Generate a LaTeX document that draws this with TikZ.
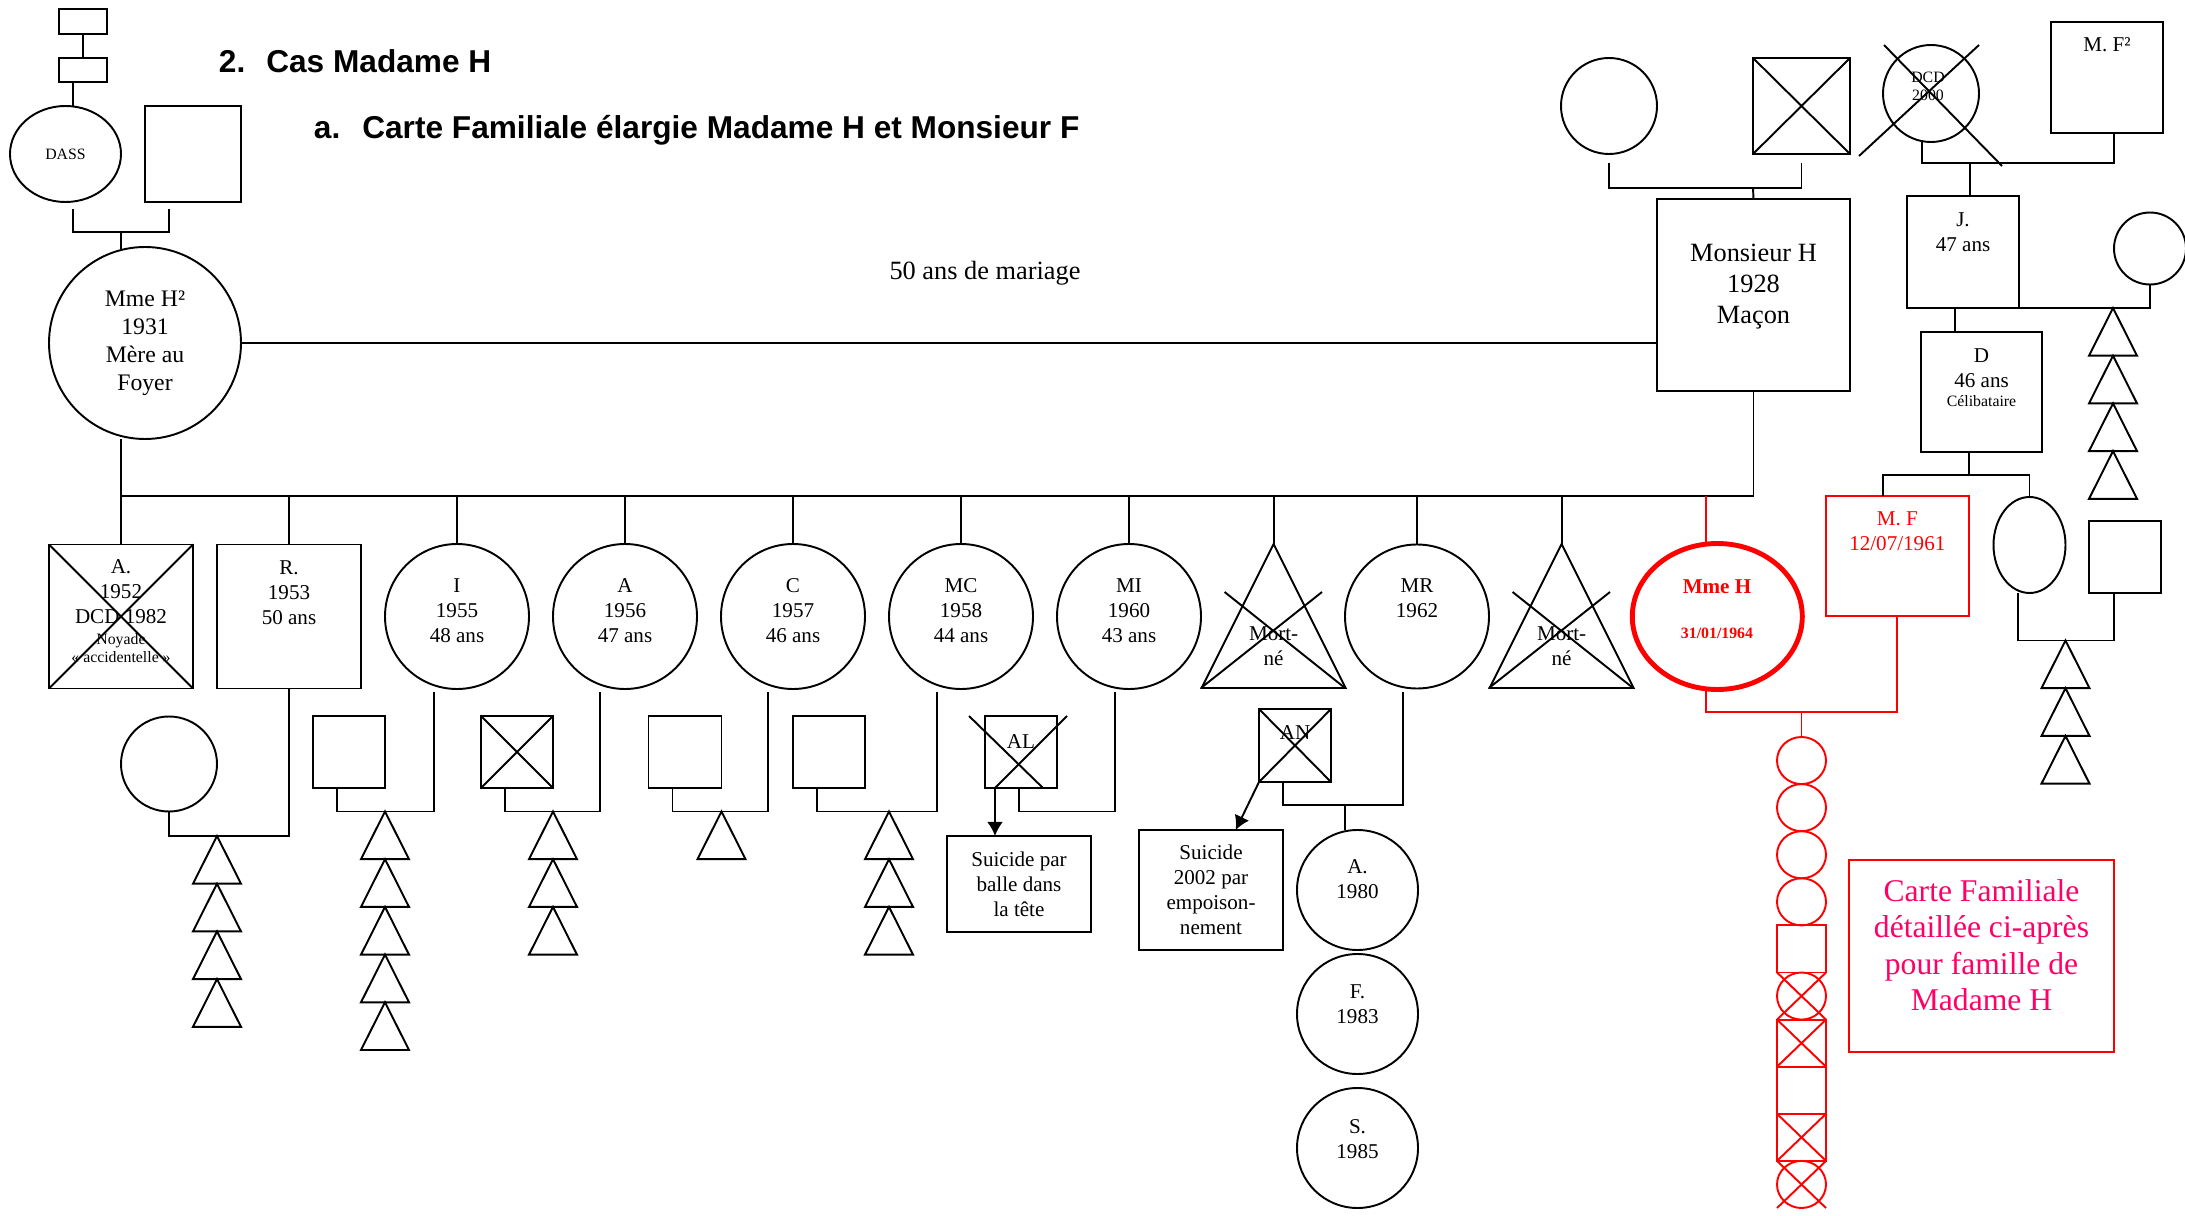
\documentclass[tikz,border=0pt]{standalone}
\usepackage{fontspec}
\setmainfont{Liberation Serif}
\setsansfont{Liberation Sans}
\usepackage{tikz}
\usetikzlibrary{arrows.meta,calc,positioning,shapes.geometric}
\definecolor{rouge}{RGB}{255,0,0}
\definecolor{rose}{RGB}{255,0,102}
\def\px{0.02cm}
\newcommand\corps{\fontsize{12}{14.2}\selectfont}
\newcommand\petit{\fontsize{9}{10.3}\selectfont}
\newcommand\moyen{\fontsize{13.5}{15.9}\selectfont}
\newcommand\grand{\fontsize{15}{17.6}\selectfont}
\newcommand\mariage{\fontsize{15}{17.6}\selectfont}
\newcommand\carte{\fontsize{18}{20.8}\selectfont}
\newcommand\titre{\fontsize{18}{21}\selectfont\sffamily\bfseries}
% croix de deces sur le cadre d'un noeud
\newcommand\croix[2][black]{\draw[#1] (#2.north -| #2.west) -- (#2.south -| #2.east) (#2.north -| #2.east) -- (#2.south -| #2.west);}
% pile d'enfants (triangles)
\newcommand\pile[2]{%
  \foreach \k in {1,...,#2}{%
    \draw ($(#1)+(-24,{47.7*\k})$) -- ($(#1)+(0,{47.7*(\k-1)})$) -- ($(#1)+(24,{47.7*\k})$) -- cycle;}}

\begin{document}
\begin{tikzpicture}[x=0.02cm,y=-0.02cm,line width=1.1pt,font=\corps,
  >={Latex[length=8pt,width=9pt]},
  sz/.style 2 args={minimum width=#1*\px,minimum height=#2*\px}]
\tikzstyle{hom}=[draw,rectangle,inner sep=0pt,outer sep=0pt]
\tikzstyle{fem}=[draw,ellipse,inner sep=0pt,outer sep=0pt]
\tikzstyle{txt}=[inner sep=0pt,align=center]
\useasboundingbox (0,0) rectangle (2185,1216);

% titres
\node[txt,anchor=base west,font=\titre] (t1) at (218,73) {2.\hspace{0.42cm}Cas Madame H};
\node[txt,anchor=base west,font=\titre] (t2) at (313,139) {a.\hspace{0.44cm}Carte Familiale élargie Madame H et Monsieur F};

% cote Mme H2
\node[hom,sz={48}{25}] (gp1) at (83,21.5) {};
\node[hom,sz={48}{24}] (gp2) at (83,70) {};
\draw (gp1) -- (gp2);
\node[fem,sz={111}{96},font=\petit] (dass) at (65.5,154) {DASS};
\node[hom,sz={96}{96}] (gpm) at (193,154) {};
\draw ($(gp2.south)+(-10,0)$) -- ($(dass.north)+(7.5,0)$);
\coordinate (b0) at (121,232);
\draw[shorten <=0.14cm,shorten >=0.14cm] ($(dass.south)+(7.5,0)$) |- (b0) -| ($(gpm.south)+(-24,0)$);
\node[fem,sz={192}{192},font=\moyen,align=center] (mh2) at (145,343) {Mme H²\\1931\\Mère au\\Foyer};
\draw (b0) -- ($(mh2.north)+(-24,4)$);

% cote Monsieur H
\node[hom,sz={193}{192}] (mh) at (1753.5,295) {};
\node[txt,font=\grand] (tmh) at (1753.5,286.7) {Monsieur H\\1928\\Maçon};
\draw (mh2.east) -- (mh2.east -| mh.west);
\node[txt,font=\mariage] (noces) at (985,273) {50 ans de mariage};
\node[fem,sz={96}{96}] (pgm) at (1609,106) {};
\node[hom,sz={97}{96}] (pgf) at (1801.5,106) {};
\croix{pgf}
\coordinate (bm) at (1753,188);
\draw[shorten <=0.18cm,shorten >=0.18cm] (pgm.south) |- (bm) -| (pgf.south);
\draw (bm) -- (mh.north);

% famille de M. F
\node[fem,sz={96}{97}] (dcd) at (1931,93.5) {};
\node[txt,font=\petit] (tdcd) at (1928,86) {DCD\\2000};
\draw ($(dcd.center)+(-72,62.5)$) -- ($(dcd.center)+(48,-48.5)$);
\draw ($(dcd.center)+(-47,-48.5)$) -- ($(dcd.center)+(71,72.5)$);
\node[hom,sz={112}{111}] (mf2) at (2107,77.5) {};
\node[txt] (tmf2) at (2107,45) {M. F²};
\node[hom,sz={112}{112}] (j) at (1963,252) {};
\node[txt] (tj) at (1963,232.5) {J.\\47 ans};
\coordinate (bj) at (1970,163);
\draw ($(dcd.south)+(-9,0)$) |- (bj) -| ($(mf2.south)+(7,0)$);
\draw (bj) -- (bj |- j.north);
\node[fem,sz={72}{72}] (jsp) at (2150,248.5) {};
\draw (j.south east) -| (jsp.south);
\coordinate (tj4) at (2113,308);
\pile{tj4}{4}
\node[hom,sz={121}{120}] (d) at (1981.5,392) {};
\node[txt] (td) at (1981.5,368) {D\\46 ans};
\node[txt,font=\petit] (td2) at (1981.5,401) {Célibataire};
\draw ($(j.south)+(-8,0)$) -- ($(d.north)+(-26.5,0)$);
\node[hom,draw=rouge,sz={143.5}{120}] (mf) at (1897.3,556) {};
\node[txt,text=rouge] (tmf) at (1897.3,531.5) {M. F\\12/07/1961};
\node[fem,sz={72}{96}] (dsis) at (2029.5,545) {};
\node[hom,sz={72}{72}] (dsp) at (2125,557) {};
\coordinate (bd) at (1969,475);
\draw ($(d.south)+(-12.5,0)$) -- (bd);
\draw ($(mf.north)+(-14.5,0)$) |- (bd) -| (dsis.north);
\coordinate (tdx) at (2065.5,640.5);
\draw ($(dsis.south)+(-11.5,0)$) |- (tdx) -| ($(dsp.south)+(-11.4,0)$);
\pile{tdx}{3}

% fratrie
\coordinate (s0) at (121,496);
\node[hom,sz={144}{144}] (a52) at (121,616.5) {};
\croix{a52}
\node[txt] (ta52) at (121,592) {A.\\1952\\DCD 1982};
\node[txt,font=\petit] (ta52b) at (121,648) {Noyade\\«~accidentelle~»};
\node[hom,sz={144}{144}] (r53) at (289,616.5) {};
\node[txt] (tr53) at (289,593) {R.\\1953\\50 ans};
\foreach \n/\x/\lab in {i55/457/{I\\1955\\48 ans},a56/625/{A\\1956\\47 ans},c57/793/{C\\1957\\46 ans},mc58/961/{MC\\1958\\44 ans},mi60/1129/{MI\\1960\\43 ans}}{
  \node[fem,sz={144}{145}] (\n) at (\x,616.5) {};
  \node[txt] (t\n) at (\x,611) {\lab};
}
\node[fem,sz={144}{144}] (mr62) at (1417,616.5) {};
\node[txt] (tmr62) at (1417,598) {MR\\1962};
\coordinate (mn1) at (1273.6,544);
\coordinate (mn2) at (1561.6,544);
\draw (s0 |- mh2.south) -- (s0) -- (s0 -| mh.south) -- (mh.south);
\foreach \n in {a52,r53,i55,a56,c57,mc58,mi60,mr62}
  \draw (\n.north |- s0) -- (\n.north);
\foreach \n in {mn1,mn2}{
  \draw (\n |- s0) -- (\n);
  \draw (\n) -- ++(72,144) -- ++(-144,0) -- cycle;
  \draw ($(\n)+(-49,48)$) -- ($(\n)+(71.4,144)$);
  \draw ($(\n)+(48.4,48)$) -- ($(\n)+(-72.6,144)$);
  \node[txt] (t\n) at ($(\n)+(0,102.5)$) {Mort-\\né};
}

% conjoints et enfants
\node[fem,sz={96}{95}] (sp53) at (169,764) {};
\coordinate (t53) at (217,836);
\draw (r53.south) |- (t53) -| (sp53.south);
\pile{t53}{4}
\node[hom,sz={72}{72}] (sp55) at (349,752) {};
\coordinate (t55) at (385,811.5);
\draw ($(i55.south)+(-23.4,3)$) |- (t55) -| ($(sp55.south)+(-12,0)$);
\pile{t55}{5}
\node[hom,sz={72}{72}] (sp56) at (517,752) {};
\croix{sp56}
\coordinate (t56) at (553,811.5);
\draw ($(a56.south)+(-25,3)$) |- (t56) -| ($(sp56.south)+(-12,0)$);
\pile{t56}{3}
\node[hom,sz={73}{72}] (sp57) at (685,752) {};
\coordinate (t57) at (721.5,811.5);
\draw ($(c57.south)+(-25,3)$) |- (t57) -| ($(sp57.south)+(-12.5,0)$);
\pile{t57}{1}
\node[hom,sz={72}{72}] (sp58) at (829,752) {};
\coordinate (t58) at (889,811.5);
\draw ($(mc58.south)+(-24,3)$) |- (t58) -| ($(sp58.south)+(-12,0)$);
\pile{t58}{3}
\node[hom,sz={72}{72}] (al) at (1021,752) {};
\draw ($(al.north west)+(-16,0)$) -- ($(al.south east)+(-14,0)$);
\draw ($(al.north east)+(10,0)$) -- ($(al.south west)+(10,0)$);
\node[txt] (tal) at (1021,742) {AL};
\coordinate (b60) at (1115,811.5);
\draw ($(mi60.south)+(-14,3)$) |- (b60) -| ($(al.south)+(-2,0)$);
\node[hom,sz={144}{96},align=center] (sui1) at (1019,884) {Suicide par\\balle dans\\la tête};
\draw[->] ($(al.south west)+(10,0)$) -- ($(sui1.north)+(-24,0)$);
\node[hom,sz={72}{73}] (an) at (1295,745.5) {};
\croix{an}
\node[txt] (tan) at (1295,733) {AN};
\node[hom,sz={143.6}{120},align=center] (sui2) at (1211,890) {Suicide\\2002 par\\empoison-\\nement};
\draw[->] (an.south west) -- ($(sui2.north)+(24.7,0)$);
\node[fem,sz={121}{120}] (ka) at (1357.5,890) {};
\node[fem,sz={121}{120},below=0.08cm of ka] (kf) {};
\node[fem,sz={121}{120},below=0.28cm of kf] (ks) {};
\node[txt] (tka) at (1357.5,879.5) {A.\\1980};
\node[txt] (tkf) at (1357.5,1004.5) {F.\\1983};
\node[txt] (tks) at (1357.5,1139) {S.\\1985};
\coordinate (b62) at (1345,805);
\draw ($(mr62.south)+(-14,3)$) |- (b62) -| ($(an.south)+(-12,0)$);
\draw (b62) -- (b62 |- ka.north);

% Madame H et ses enfants
\node[fem,draw=rouge,line width=2.8pt,sz={170}{146}] (mmeh) at (1717.3,616.5) {};
\node[txt,text=rouge,font={\corps\bfseries}] (tmmeh) at (1717,587) {Mme H};
\node[txt,text=rouge,font={\petit\bfseries}] (tmmeh2) at (1717,633) {31/01/1964};
\coordinate (s2) at ($(mmeh.north)+(-11,0)$);
\draw[rouge] (s2 |- s0) -- (s2);
\foreach \s/\c [count=\i] in {ellipse/0,ellipse/0,ellipse/0,ellipse/0,rectangle/0,ellipse/1,rectangle/1,rectangle/0,rectangle/1,ellipse/1}{
  \node[draw=rouge,shape=\s,inner sep=0pt,outer sep=0pt,sz={49}{47.1}] (e\i) at (1801.5,{713.45+47.1*\i}) {};
  \ifnum\c=1 \croix[rouge]{e\i}\fi
}
\coordinate (b64) at (1801.5,712);
\draw[rouge] ($(mmeh.south)+(-11,0)$) |- (b64) -| (mf.south);
\draw[rouge] (b64) -- (e1.north);
\node[hom,draw=rouge,sz={265}{192}] (carte) at (1981.5,956) {};
\node[txt,text=rose,font=\carte] (tcarte) at (1981.5,945) {Carte Familiale\\détaillée ci-après\\pour famille de\\Madame H};
\end{tikzpicture}
\end{document}
